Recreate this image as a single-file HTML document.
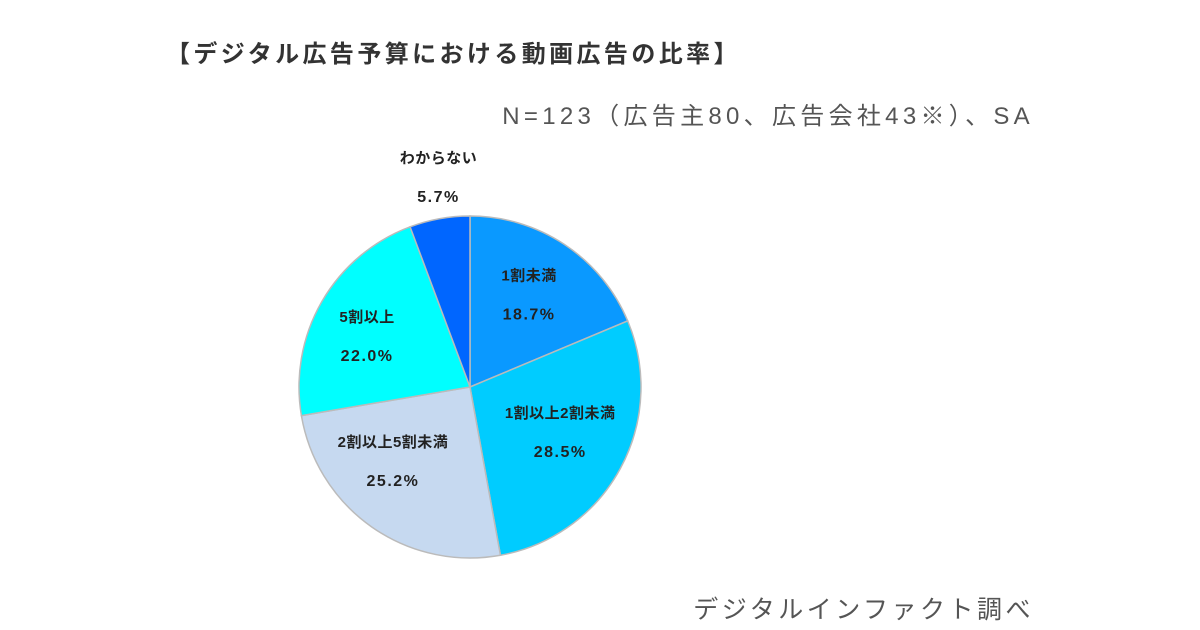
<!DOCTYPE html>
<html><head><meta charset="utf-8"><style>
body{margin:0;width:1200px;height:630px;background:#fff;overflow:hidden;font-family:"Liberation Sans","Noto Sans CJK JP",sans-serif}
.t{position:absolute;white-space:nowrap}
</style></head><body>
<div class="t" style="left:166px;top:34px;font-size:24px;letter-spacing:3.4px;font-weight:bold;color:#333">【デジタル広告予算における動画広告の比率】</div>
<div class="t" style="right:166px;top:96px;font-size:24px;letter-spacing:4.3px;color:#555">N=123（広告主80、広告会社43※）、SA</div>
<div class="t" style="right:166px;top:590px;font-size:25px;letter-spacing:3.5px;color:#555">デジタルインファクト調べ</div>
<svg id="pie" width="1200" height="630" style="position:absolute;left:0;top:0"></svg>
<script>
const categories=["1割未満","1割以上2割未満","2割以上5割未満","5割以上","わからない"];
const values=[18.7,28.5,25.2,22.0,5.7];
const valueLabels=["18.7%","28.5%","25.2%","22.0%","5.7%"];
const colors=["#0a99ff","#00ccff","#c6d9f0","#00ffff","#0066ff"];
const cx=470,cy=387,r=171;
const NS="http://www.w3.org/2000/svg";
const svg=document.getElementById('pie');
const total=values.reduce((a,b)=>a+b,0);
const labelR=[0.55,0.6,0.55,0.6,1.2];
const ldx=[7,0,-23,-14,5], ldy=[-14,-4,-3,0,-8];
let a0=-Math.PI/2;
values.forEach((v,i)=>{
  const a1=a0+v/total*2*Math.PI;
  const x0=cx+r*Math.cos(a0),y0=cy+r*Math.sin(a0),x1=cx+r*Math.cos(a1),y1=cy+r*Math.sin(a1);
  const p=document.createElementNS(NS,'path');
  p.setAttribute('d',`M${cx},${cy}L${x0},${y0}A${r},${r} 0 ${a1-a0>Math.PI?1:0} 1 ${x1},${y1}Z`);
  p.setAttribute('fill',colors[i]);p.setAttribute('stroke','#bbb');p.setAttribute('stroke-width','1.5');
  
  
  svg.appendChild(p);
  const am=(a0+a1)/2,lr=r*labelR[i];
  const lx=cx+lr*Math.cos(am)+ldx[i],ly=cy+lr*Math.sin(am)+ldy[i];
  [[categories[i],-14,15,0.5],[valueLabels[i],25,16,1.5]].forEach((d,j)=>{
    const t=document.createElementNS(NS,'text');
    t.setAttribute('x',lx);t.setAttribute('y',ly+d[1]);t.setAttribute('text-anchor','middle');
    t.setAttribute('font-size',d[2]);t.setAttribute('font-weight','bold');t.setAttribute('fill','#222');
    t.setAttribute('letter-spacing',d[3]);
    t.setAttribute('font-family','"Liberation Sans","Noto Sans CJK JP",sans-serif');
    
    
    t.textContent=d[0];svg.appendChild(t);
  });
  a0=a1;
});
</script>
</body></html>
